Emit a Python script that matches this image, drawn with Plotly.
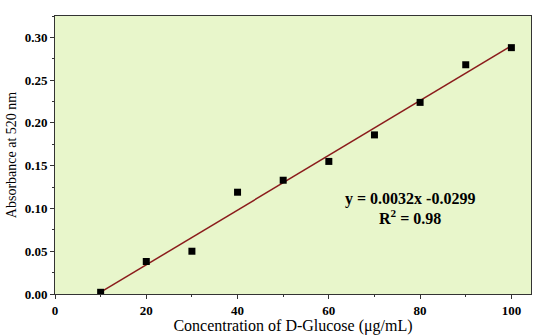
import plotly.graph_objects as go

conc = [10, 20, 30, 40, 50, 60, 70, 80, 90, 100]
absorb = [0.002, 0.038, 0.050, 0.119, 0.133, 0.155, 0.186, 0.224, 0.268, 0.288]
slope = 0.0032
intercept = -0.0299
fit_x = [10, 100]
fit_y = [slope * x + intercept for x in fit_x]

fig = go.Figure()
fig.add_trace(go.Scatter(x=fit_x, y=fit_y, mode="lines",
                         line=dict(color="#8b1c1c", width=1.5), showlegend=False))
fig.add_trace(go.Scatter(x=conc, y=absorb, mode="markers",
                         marker=dict(symbol="square", size=7, color="black"), showlegend=False))

fig.add_annotation(x=0.746, y=0.342, xref="paper", yref="paper", xanchor="center", yanchor="middle",
                   text="<b>y = 0.0032x -0.0299</b>", showarrow=False,
                   font=dict(family="Liberation Serif", size=16, color="black"))
fig.add_annotation(x=0.746, y=0.277, xref="paper", yref="paper", xanchor="center", yanchor="middle",
                   text="<b>R<sup>2</sup> = 0.98</b>", showarrow=False,
                   font=dict(family="Liberation Serif", size=16, color="black"))

axis_common = dict(showgrid=False, zeroline=False, showline=True, linecolor="#333",
                   linewidth=1, mirror=True, ticks="outside", ticklen=4, tickcolor="#333",
                   automargin=False,
                   tickfont=dict(family="Liberation Serif", size=13, color="black", weight="bold"))

fig.update_layout(
    width=533, height=335,
    margin=dict(l=55, r=2, t=16, b=41),
    paper_bgcolor="white", plot_bgcolor="#e8f6cb",
    xaxis=dict(range=[0, 104.3], tickvals=[0, 20, 40, 60, 80, 100],
               minor=dict(tickvals=[10, 30, 50, 70, 90], ticks="outside", ticklen=2, tickcolor="#333"),
               title=dict(text="Concentration of D-Glucose (μg/mL)", standoff=4,
                          font=dict(family="Liberation Serif", size=16, color="black")),
               **axis_common),
    yaxis=dict(range=[0, 0.325], tickvals=[0, 0.05, 0.10, 0.15, 0.20, 0.25, 0.30], tickformat=".2f",
               minor=dict(tickvals=[0.025, 0.075, 0.125, 0.175, 0.225, 0.275, 0.325], ticks="outside", ticklen=2, tickcolor="#333"),
               title=dict(text="Absorbance at 520 nm", standoff=4,
                          font=dict(family="Liberation Serif", size=14, color="black")),
               **axis_common),
)

fig.write_html("out.html", config={"displayModeBar": False},
               post_script="document.body.style.margin='0';document.body.style.padding='0';")
